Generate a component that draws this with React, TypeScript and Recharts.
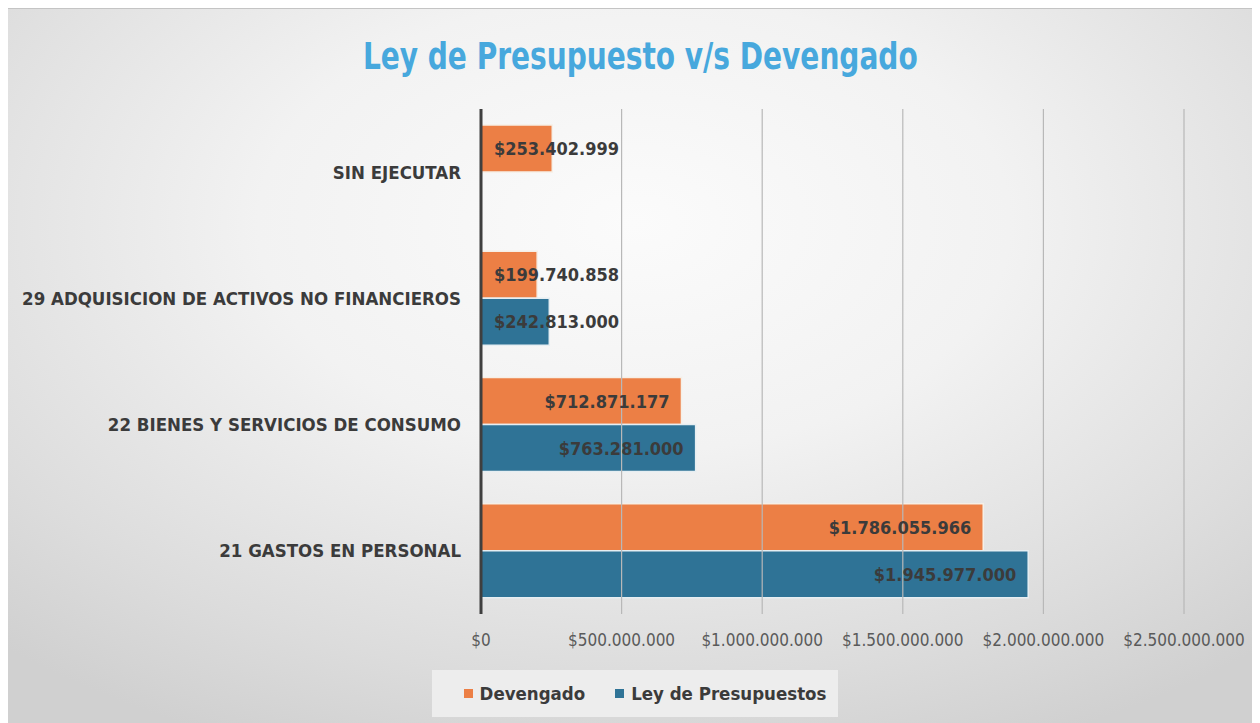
import { BarChart, Bar, XAxis, YAxis, LabelList, Legend, ReferenceLine } from "recharts";

const categories = [
  "SIN EJECUTAR",
  "29 ADQUISICION DE ACTIVOS NO FINANCIEROS",
  "22 BIENES Y SERVICIOS DE CONSUMO",
  "21 GASTOS EN PERSONAL",
];
const devengado = [253402999, 199740858, 712871177, 1786055966];
const leyPresupuestos = [null, 242813000, 763281000, 1945977000];
const xTicks = [0, 500000000, 1000000000, 1500000000, 2000000000, 2500000000];

const ORANGE = "#ec7f45";
const BLUE = "#2f7396";
const FONT = "'Liberation Sans Narrow', 'DejaVu Sans Condensed', 'Roboto Condensed', Roboto, sans-serif";

const data = categories.map((name, i) => ({
  name,
  devengado: devengado[i],
  ley: leyPresupuestos[i],
}));

const money = (v: number) => "$" + String(Math.round(v)).replace(/\B(?=(\d{3})+(?!\d))/g, ".");

function BarValue(props: any) {
  const { x, y, width, height, value } = props;
  if (value == null) return null;
  const text = money(value);
  const tw = text.length * 10.1;
  const inside = width >= tw + 23;
  return (
    <text
      x={inside ? x + width - 12 : x + 13}
      y={y + height / 2}
      textAnchor={inside ? "end" : "start"}
      dominantBaseline="central"
      fill="#3b3b3b"
      fontSize={18}
      fontWeight="bold"
      fontFamily={FONT}
    >
      {text}
    </text>
  );
}

function LegendBox() {
  const items = [
    { label: "Devengado", color: ORANGE },
    { label: "Ley de Presupuestos", color: BLUE },
  ];
  return (
    <div
      style={{
        width: 406,
        height: 47,
        boxSizing: "border-box",
        paddingLeft: 20,
        background: "#ededed",
        display: "flex",
        alignItems: "center",
        justifyContent: "center",
        gap: 30,
        fontFamily: FONT,
        fontWeight: "bold",
        fontSize: 18.5,
        color: "#3b3b3b",
      }}
    >
      {items.map((it) => (
        <span key={it.label} style={{ display: "flex", alignItems: "center", gap: 7 }}>
          <span style={{ width: 9, height: 9, background: it.color, display: "inline-block" }} />
          {it.label}
        </span>
      ))}
    </div>
  );
}

export default function App() {
  return (
    <div
      style={{
        position: "relative",
        width: 1252,
        height: 714,
        background: "radial-gradient(ellipse 75% 80% at 50% 30%, #fbfbfb 0%, #f2f2f2 40%, #dcdcdc 80%, #d0d0d0 100%)",
        borderTop: "1px solid #c4c4c4",
      }}
    >
      <div
        style={{
          position: "absolute",
          top: 25,
          left: 0,
          width: 1264,
          textAlign: "center",
          fontFamily: FONT,
          fontWeight: "bold",
          fontSize: 38,
          color: "#47a8dd",
        }}
      >
        <span style={{ display: "inline-block", transform: "scaleX(0.82)" }}>Ley de Presupuesto v/s Devengado</span>
      </div>
      <BarChart
        width={1252}
        height={714}
        data={data}
        layout="vertical"
        margin={{ top: 100, right: 76, bottom: 69, left: 0 }}
        barCategoryGap={16}
        barGap={0}
      >
        <XAxis
          type="number"
          domain={[0, 2500000000]}
          ticks={xTicks}
          tickFormatter={money}
          axisLine={false}
          tickLine={false}
          height={40}
          tickMargin={14}
          tick={{ fill: "#5a5a5a", fontSize: 17, fontFamily: FONT }}
        />
        <YAxis
          type="category"
          dataKey="name"
          width={473}
          axisLine={{ stroke: "#3f3f3f", strokeWidth: 3 }}
          tickLine={false}
          tickSize={0}
          tickMargin={20}
          tick={{ fill: "#3b3b3b", fontSize: 18.5, fontWeight: "bold", fontFamily: FONT }}
        />
        <Bar dataKey="devengado" name="Devengado" fill={ORANGE} stroke="#f6efe6" strokeWidth={1.5} isAnimationActive={false}>
          <LabelList dataKey="devengado" content={BarValue} />
        </Bar>
        <Bar dataKey="ley" name="Ley de Presupuestos" fill={BLUE} stroke="#e6eef2" strokeWidth={1.5} isAnimationActive={false}>
          <LabelList dataKey="ley" content={BarValue} />
        </Bar>
        {xTicks.slice(1).map((t) => (
          <ReferenceLine key={t} x={t} stroke="#b8b8b8" strokeWidth={1.2} />
        ))}
        <Legend
          layout="horizontal"
          verticalAlign="middle"
          align="center"
          content={LegendBox}
          wrapperStyle={{ position: "absolute", top: 661, left: 424, width: 406, height: 47 }}
        />
      </BarChart>
    </div>
  );
}
